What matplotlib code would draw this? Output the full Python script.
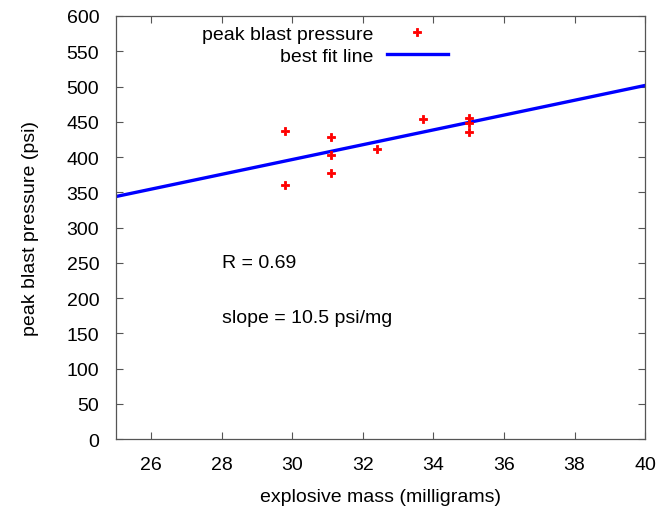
import numpy as np
import matplotlib.pyplot as plt

# explosive mass (mg) and measured peak blast pressure (psi)
mass = [29.8, 29.8, 31.1, 31.1, 31.1, 32.4, 33.7, 35.0, 35.0, 35.0]
pressure = [437, 360, 428, 403, 378, 411, 454, 455, 448, 436]

fit_slope = 10.5
fit_intercept = 81.5
fit_x = [25, 40]

x_ticks = [26, 28, 30, 32, 34, 36, 38, 40]
y_ticks = list(range(0, 601, 50))

plt.rcParams['font.family'] = ['Liberation Sans', 'DejaVu Sans']

fig = plt.figure(figsize=(6.72, 5.1), dpi=100)
ax = fig.add_axes([0.1726, 0.137, 0.7874, 0.8297])

ax.plot(mass, pressure, linestyle='none', marker='P', markersize=5.5,
        color='red', markeredgewidth=0.6, label='peak blast pressure', zorder=3)
fx = np.array(fit_x, dtype=float)
ax.plot(fx, fit_slope * fx + fit_intercept, color='#0000ff', linewidth=2.4,
        label='best fit line', zorder=2)

ax.set_xlim(25, 40)
ax.set_ylim(0, 600)
ax.set_xticks(x_ticks)
ax.set_yticks(y_ticks)
ax.tick_params(direction='in', length=5, width=0.8, color='#555555',
               labelsize=14, top=True, right=True, pad=12)
for s in ax.spines.values():
    s.set_color('#555555')
    s.set_linewidth(0.9)

ax.set_xlabel('explosive mass (milligrams)', fontsize=14, labelpad=11)
ax.set_ylabel('peak blast pressure (psi)', fontsize=14, labelpad=20)

ax.text(28, 251, 'R = 0.69', fontsize=14, va='center')
ax.text(28, 173, 'slope = 10.5 psi/mg', fontsize=14, va='center')

ax.legend(loc='upper left', bbox_to_anchor=(0.13, 1.02), frameon=False,
          markerfirst=False, fontsize=14, handlelength=3.1, handletextpad=0.7,
          labelspacing=0.22)

fig.savefig('out.png', dpi=100)
